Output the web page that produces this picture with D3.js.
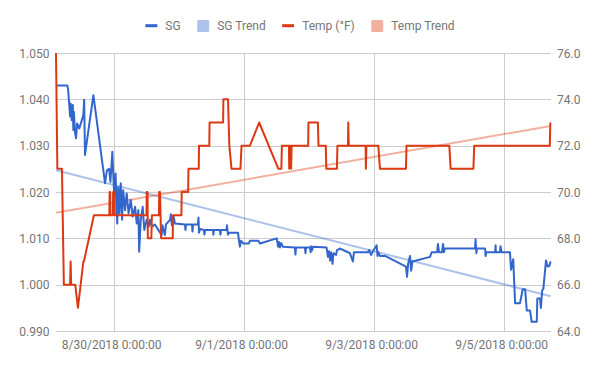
<!DOCTYPE html>
<html>
<head>
<meta charset="utf-8">
<script src="https://cdn.jsdelivr.net/npm/d3@7"></script>
<style>
  body { margin: 0; background: #fff; }
  text { font-family: Roboto, "Noto Sans", sans-serif; }
</style>
</head>
<body>
<div id="chart"></div>
<script>
  var width = 600;
  var height = 371;

  // time of each reading, in hours after 8/29/2018 0:00:00
  var sgHours = [2.6, 6.8, 7.1, 7.8, 8.0, 8.4, 8.8, 9.0, 9.2, 9.6, 10.0, 10.4, 11.2, 12.7, 13.0, 13.3, 16.4,
    20.7, 21.4, 22.2, 22.7, 23.4, 24.1, 24.6, 25.2, 25.6, 26.0, 26.5, 27.0, 27.4, 28.1, 28.7, 29.4, 30.2, 30.9,
    31.8, 32.4, 33.0, 33.3, 33.9, 34.6, 35.2, 36.1, 36.8, 37.3, 38.0, 39.1, 41.6, 41.9, 42.8, 43.2, 44.7, 45.0,
    45.4, 46.0, 46.5, 50.2, 50.4, 50.6, 52.8, 53.0, 53.2, 55.0, 55.2, 55.4, 55.8, 57.2, 57.4, 57.6, 60.6, 60.7,
    60.9, 63.1, 63.3, 63.5, 65.6, 65.7, 66.1, 66.5, 69.8, 70.2, 70.5, 70.9, 71.7, 73.8, 74.2, 77.3, 77.9, 84.1,
    84.6, 84.9, 85.3, 85.7, 86.4, 90.8, 91.0, 91.2, 94.5, 94.7, 94.9, 96.4, 96.6, 96.7, 97.1, 97.5, 102.5, 103.0,
    103.4, 103.8, 104.1, 104.7, 105.0, 106.0, 106.3, 107.4, 110.4, 111.1, 112.2, 112.6, 117.8, 118.2, 118.9,
    119.6, 121.0, 121.3, 121.6, 122.2, 124.1, 131.8, 132.2, 132.6, 133.3, 133.7, 134.2, 140.7, 141.3, 143.3,
    143.6, 144.0, 145.1, 145.5, 145.8, 146.2, 157.3, 157.5, 157.8, 158.0, 161.0, 161.2, 161.5, 164.7, 164.9,
    165.0, 166.5, 166.7, 167.1, 170.2, 170.6, 171.4, 172.1, 173.9, 174.9, 175.8, 176.4, 177.6, 178.2, 180.1,
    180.3, 181.3, 181.6, 182.1, 182.5, 183.5, 184.1, 184.7, 185.2];
  var sgValues = [1.043, 1.043, 1.042, 1.0363, 1.0391, 1.0355, 1.0388, 1.0334, 1.0373, 1.0330, 1.0316, 1.0348,
    1.0337, 1.0366, 1.0399, 1.0280, 1.0409,
    1.0219, 1.0247, 1.0250, 1.0222, 1.0287, 1.0190, 1.0240, 1.0132, 1.0211, 1.0154, 1.0219, 1.0140, 1.0204,
    1.0161, 1.0197, 1.0154, 1.0183, 1.0147, 1.0168, 1.0132, 1.0161, 1.0071, 1.0140, 1.0168, 1.0118, 1.0140,
    1.0125, 1.0140, 1.0125, 1.0130, 1.0107, 1.0128, 1.0107, 1.0130, 1.0140, 1.0152, 1.0128, 1.0148, 1.0132,
    1.0130, 1.0118, 1.0130, 1.0130, 1.0115, 1.0130, 1.0130, 1.0145, 1.0112, 1.0120, 1.0118, 1.0108, 1.0118,
    1.0118, 1.0108, 1.0118, 1.0118, 1.0108, 1.0118, 1.0118, 1.0128, 1.0108, 1.0112, 1.0112, 1.0093, 1.0082,
    1.0095, 1.0089, 1.0089, 1.0095, 1.0095, 1.0089, 1.0100, 1.0082, 1.0092, 1.0080, 1.0090, 1.0082, 1.0080,
    1.0065, 1.0080, 1.0080, 1.0068, 1.0080, 1.0080, 1.0070, 1.0083, 1.0074, 1.0082, 1.0080, 1.0060, 1.0072,
    1.0052, 1.0070, 1.0045, 1.0068, 1.0064, 1.0074, 1.0078, 1.0070, 1.0068, 1.0050, 1.0070, 1.0070, 1.0075,
    1.0064, 1.0072, 1.0085, 1.0062, 1.0070, 1.0062, 1.0062, 1.0039, 1.0017, 1.0045, 1.0062, 1.0030, 1.0050,
    1.0060, 1.0070, 1.0070, 1.0088, 1.0070, 1.0070, 1.0088, 1.0070, 1.0078, 1.0078, 1.0098, 1.0068, 1.0078,
    1.0078, 1.0062, 1.0070, 1.0070, 1.0085, 1.0070, 1.0070, 1.0083, 1.0070, 1.0070, 1.0032, 1.0055, 0.9960,
    0.9960, 0.9990, 0.9990, 0.9944, 0.9944, 0.9920, 0.9920, 0.9970, 0.9970, 0.9950, 0.9988, 0.9990, 1.0052,
    1.0039, 1.0040, 1.0050];

  var tempHours = [2.6, 3.1, 4.8, 5.5, 7.8, 8.0, 8.2, 9.7, 10.7, 12.7, 12.9, 16.6, 22.3, 22.4, 22.6, 22.7,
    23.6, 23.7, 24.2, 24.3, 36.0, 36.1, 36.4, 36.5, 37.8, 38.0, 40.6, 40.7, 41.0, 41.4, 45.7, 45.8, 48.9, 49.0,
    51.4, 51.5, 55.3, 55.4, 59.2, 59.3, 64.3, 64.4, 66.1, 66.6, 67.4, 70.7, 71.1, 74.2, 77.6, 84.7, 85.8, 86.0,
    88.6, 88.7, 88.9, 89.3, 89.4, 89.6, 95.7, 95.8, 99.3, 99.5, 102.2, 102.4, 106.3, 106.5, 110.4, 110.5, 110.7,
    116.9, 117.0, 117.2, 121.6, 122.2, 131.8, 132.0, 147.8, 148.3, 156.7, 157.0, 184.9, 185.1];
  var tempValues = [76, 71, 71, 66, 66, 67, 66, 66, 65, 67, 67, 69, 69, 70, 70, 69,
    69, 70, 70, 69, 69, 70, 70, 68, 68, 69, 69, 70, 70, 68, 68, 69, 69, 70,
    70, 71, 71, 72, 72, 73, 73, 74, 74, 72, 71, 71, 72, 72, 73, 71, 71, 72,
    72, 71, 72, 72, 71, 72, 72, 73, 73, 72, 72, 71, 71, 72, 72, 73, 72,
    72, 71, 72, 72, 71, 71, 72, 72, 71, 71, 72, 72, 73];

  // trend lines, value at first and last reading
  var sgTrend = [1.0247, 0.9975];
  var tempTrend = [69.1, 72.85];

  var sgTicks = [0.99, 1.00, 1.01, 1.02, 1.03, 1.04, 1.05];
  var tempTicks = [64, 66, 68, 70, 72, 74, 76];
  var dateTicks = ["2018-08-30", "2018-09-01", "2018-09-03", "2018-09-05"];

  var seriesNames = ["SG", "SG Trend", "Temp (°F)", "Temp Trend"];

  var start = new Date(2018, 7, 29, 0, 0, 0);
  function toDate(h) { return new Date(start.getTime() + h * 3600000); }

  var sgData = sgHours.map(function(h, i) { return { date: toDate(h), value: sgValues[i] }; });
  var tempData = tempHours.map(function(h, i) { return { date: toDate(h), value: tempValues[i] }; });
  var allDates = sgData.concat(tempData).map(function(d) { return d.date; });
  var xExtent = d3.extent(allDates);
  var sgTrendData = [{ date: xExtent[0], value: sgTrend[0] }, { date: xExtent[1], value: sgTrend[1] }];
  var tempTrendData = [{ date: xExtent[0], value: tempTrend[0] }, { date: xExtent[1], value: tempTrend[1] }];

  var plotLeft = 56, plotRight = 550.6, plotTop = 53, plotBottom = 331;

  var x = d3.scaleTime().domain(xExtent).range([plotLeft, plotRight]);
  var yL = d3.scaleLinear().domain([0.99, 1.05]).range([plotBottom, plotTop]);
  var yR = d3.scaleLinear().domain([64, 76]).range([plotBottom, plotTop]);

  var svg = d3.select("#chart").append("svg")
      .attr("width", width)
      .attr("height", height);

  var parseDay = d3.timeParse("%Y-%m-%d");
  var fmtDate = d3.timeFormat("%-m/%-d/%Y %-H:%M:%S");

  // gridlines
  svg.append("g").selectAll("line")
    .data(sgTicks).enter().append("line")
    .attr("x1", plotLeft).attr("x2", 551)
    .attr("y1", function(d) { return Math.round(yL(d)) + 0.5; })
    .attr("y2", function(d) { return Math.round(yL(d)) + 0.5; })
    .style("stroke", "#cccccc").style("stroke-width", 1);

  svg.append("g").selectAll("line")
    .data(dateTicks).enter().append("line")
    .attr("x1", function(d) { return Math.round(x(parseDay(d))) + 0.5; })
    .attr("x2", function(d) { return Math.round(x(parseDay(d))) + 0.5; })
    .attr("y1", plotTop).attr("y2", plotBottom)
    .style("stroke", "#cccccc").style("stroke-width", 1);

  // axis labels
  svg.append("g").selectAll("text")
    .data(sgTicks).enter().append("text")
    .attr("x", 49.5)
    .attr("y", function(d) { return yL(d) + 4.5; })
    .attr("text-anchor", "end")
    .style("font-size", "12px").style("fill", "#757575")
    .text(function(d) { return d3.format(".3f")(d); });

  svg.append("g").selectAll("text")
    .data(tempTicks).enter().append("text")
    .attr("x", 557)
    .attr("y", function(d) { return yR(d) + 4.5; })
    .style("font-size", "12px").style("fill", "#757575")
    .text(function(d) { return d3.format(".1f")(d); });

  svg.append("g").selectAll("text")
    .data(dateTicks).enter().append("text")
    .attr("x", function(d) { return x(parseDay(d)) - 2.4; })
    .attr("y", 349)
    .attr("text-anchor", "middle")
    .style("font-size", "12px").style("fill", "#757575")
    .text(function(d) { return fmtDate(parseDay(d)); });

  var lineL = d3.line().x(function(d) { return x(d.date); }).y(function(d) { return yL(d.value); });
  var lineR = d3.line().x(function(d) { return x(d.date); }).y(function(d) { return yR(d.value); });

  // trends underneath
  svg.append("path").datum(sgTrendData).attr("d", lineL)
    .style("fill", "none").style("stroke", "#3366cc").style("stroke-opacity", 0.4).style("stroke-width", 2);
  svg.append("path").datum(tempTrendData).attr("d", lineR)
    .style("fill", "none").style("stroke", "#dc3912").style("stroke-opacity", 0.4).style("stroke-width", 2);

  svg.append("path").datum(sgData).attr("d", lineL)
    .style("fill", "none").style("stroke", "#3366cc").style("stroke-width", 2)
    .style("stroke-linejoin", "round");
  svg.append("path").datum(tempData).attr("d", lineR)
    .style("fill", "none").style("stroke", "#dc3912").style("stroke-width", 2)
    .style("stroke-linejoin", "round");

  // legend
  var legendColors = ["#3366cc", "#adc2eb", "#dc3912", "#f1b0a0"];
  var legend = svg.append("g");
  var cursor = 0;
  seriesNames.forEach(function(name, i) {
    var g = legend.append("g").attr("transform", "translate(" + cursor + ",0)");
    if (i % 2 == 0) {
      g.append("rect").attr("x", 0).attr("y", 24.2).attr("width", 12).attr("height", 3)
        .style("fill", legendColors[i]);
    } else {
      g.append("rect").attr("x", 0).attr("y", 20).attr("width", 12).attr("height", 12)
        .attr("rx", 1.5).style("fill", legendColors[i]);
    }
    var t = g.append("text").attr("x", 20).attr("y", 30.3)
      .style("font-size", "12px").style("fill", "#757575").text(name);
    cursor += 20 + t.node().getComputedTextLength() + 16.5;
  });
  var legendWidth = cursor - 16.5;
  legend.attr("transform", "translate(" + (300 - legendWidth / 2) + ",0)");
</script>
</body>
</html>
